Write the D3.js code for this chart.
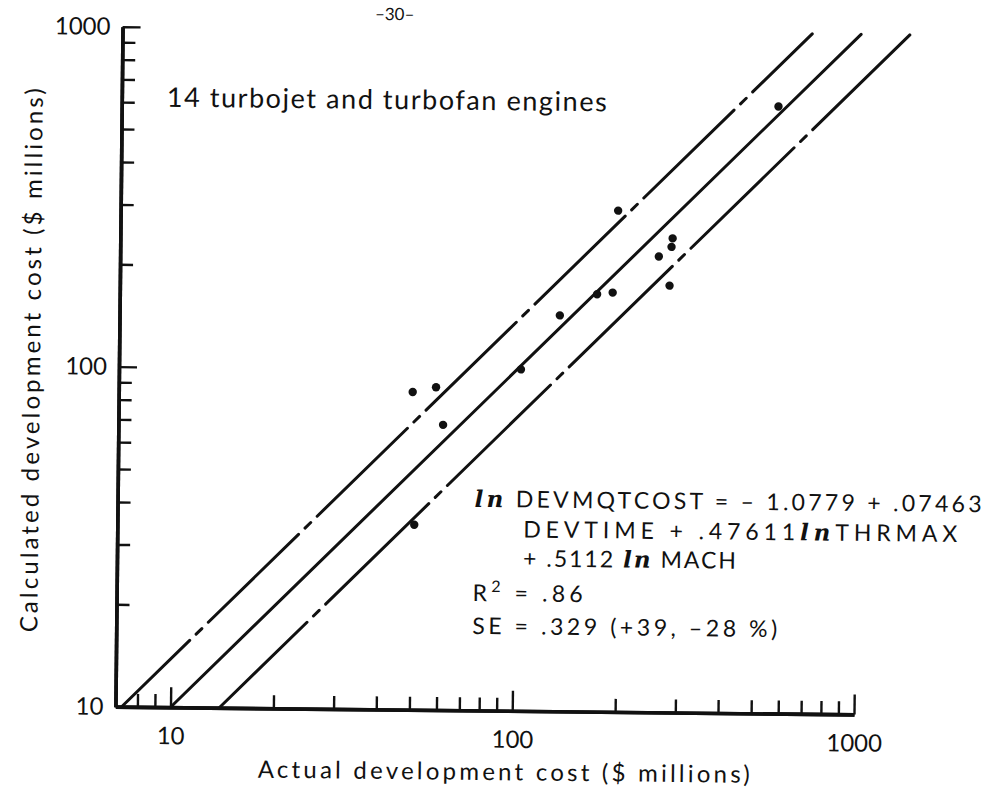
<!DOCTYPE html>
<html><head><meta charset="utf-8">
<script src="https://cdn.jsdelivr.net/npm/d3@7"></script>
<style>
body{margin:0;background:#fff}
svg{display:block}
text{font-family:Lato,"Noto Sans",sans-serif;fill:#111}
.ln{font-family:"DejaVu Serif",serif;font-style:italic;font-weight:bold}
</style></head><body>
<svg id="chart" width="1000" height="787"></svg>
<script>
// Actual vs. calculated development cost for 14 turbojet and turbofan engines ($ millions)
const actualCost     = [50, 58.5, 61.5, 103.5, 134, 172, 191, 51, 197, 285, 283, 260, 280, 576];
const calculatedCost = [86, 89, 69, 101, 146, 169, 171, 35, 298, 248, 234, 219, 180, 610];

// Fitted line and the one-standard-error band around it (SE = .329 -> +39 %, -28 %)
const bandNames   = ["upper", "fit", "lower"];
const bandFactors = [1.39, 1, 0.72];
const bandRange   = [10, 1000];

// Log axes
const xDomain = [6.9, 1000];
const yDomain = [10, 1000];
const xMinorTicks = [8, 9, 20, 30, 40, 50, 60, 70, 80, 90, 200, 300, 400, 500, 600, 700, 800, 900];
const yMinorTicks = [20, 30, 40, 50, 60, 70, 80, 90, 200, 300, 400, 500, 600, 700, 800, 900];
const majorTicks  = [10, 100, 1000];
const majorLabels = ["10", "100", "1000"];

const svg = d3.select("#chart");
const g = svg.append("g").attr("transform", "rotate(0.6,485,368)");

const x = d3.scaleLog().domain(xDomain).range([119, 857.6]);
const y = d3.scaleLog().domain(yDomain).range([710.5, 30.5]);

const lineStyle = {
  upper: {dash: "126 9 8 9", offset: 31},
  fit:   {dash: null, offset: 0},
  lower: {dash: "144 9 8 9", offset: 21.5}
};

// band lines
const lineGen = d3.line().x(d => x(d[0])).y(d => y(d[1]));
bandNames.forEach((name, i) => {
  const f = bandFactors[i];
  const pts = bandRange.map(c => [c / f, c]);
  const st = lineStyle[name];
  g.append("path")
    .attr("d", lineGen(pts))
    .attr("fill", "none")
    .attr("stroke", "#111")
    .attr("stroke-width", 3)
    .attr("stroke-linecap", "round")
    .attr("stroke-dasharray", st.dash)
    .attr("stroke-dashoffset", st.offset);
});

// axes
function styleAxis(sel, w) {
  sel.selectAll(".domain").attr("stroke", "#111").attr("stroke-width", w);
  sel.selectAll(".tick line").attr("stroke", "#111").attr("stroke-width", 2.4);
  sel.selectAll("text").attr("font-size", 24).attr("fill", "#111").attr("font-family", "Lato, 'Noto Sans', sans-serif");
}
const xAxisY = y(yDomain[0]);
const xAxisX = x(xDomain[0]);

const xMinor = g.append("g").attr("transform", `translate(0,${xAxisY})`)
  .call(d3.axisBottom(x).tickValues(xMinorTicks).tickSizeInner(-13).tickSizeOuter(0).tickFormat(""));
styleAxis(xMinor, 3.6);
const xMajor = g.append("g").attr("transform", `translate(0,${xAxisY})`)
  .call(d3.axisBottom(x).tickValues(majorTicks).tickSizeInner(-20).tickSizeOuter(0).tickPadding(20)
    .tickFormat((d, i) => majorLabels[i]));
styleAxis(xMajor, 3.6);

const yMinor = g.append("g").attr("transform", `translate(${xAxisX},0)`)
  .call(d3.axisLeft(y).tickValues(yMinorTicks).tickSizeInner(-13).tickSizeOuter(0).tickFormat(""));
styleAxis(yMinor, 3.6);
const yMajor = g.append("g").attr("transform", `translate(${xAxisX},0)`)
  .call(d3.axisLeft(y).tickValues(majorTicks).tickSizeInner(-18).tickSizeOuter(0).tickPadding(12)
    .tickFormat((d, i) => majorLabels[i]));
styleAxis(yMajor, 3.6);

// data points
g.append("g").selectAll("circle")
  .data(actualCost)
  .join("circle")
  .attr("cx", d => x(d))
  .attr("cy", (d, i) => y(calculatedCost[i]))
  .attr("r", 4.2)
  .attr("fill", "#111");

// axis titles
g.append("text")
  .attr("x", 508).attr("y", 780)
  .attr("text-anchor", "middle")
  .attr("font-size", 24)
  .attr("textLength", 492).attr("lengthAdjust", "spacing")
  .text("Actual development cost ($ millions)");

g.append("text")
  .attr("transform", "translate(40,365) rotate(-90)")
  .attr("text-anchor", "middle")
  .attr("font-size", 24)
  .attr("textLength", 544).attr("lengthAdjust", "spacing")
  .text("Calculated development cost ($ millions)");

// page number
g.append("text")
  .attr("x", 391).attr("y", 21)
  .attr("text-anchor", "middle")
  .attr("font-size", 17)
  .text("\u201330\u2013");

// sample note
g.append("text")
  .attr("x", 164).attr("y", 110)
  .attr("font-size", 27)
  .attr("textLength", 440).attr("lengthAdjust", "spacing")
  .text("14 turbojet and turbofan engines");

// regression equation
const eq = g.append("g").attr("font-size", 23);
function eqLine(x0, y0, len, parts) {
  const t = eq.append("text").attr("x", x0).attr("y", y0)
    .attr("textLength", len).attr("lengthAdjust", "spacing");
  parts.forEach(p => {
    const s = t.append("tspan").text(p[0]);
    if (p[1]) s.attr("class", "ln").attr("font-size", 23);
  });
  return t;
}
eqLine(476, 507, 507, [["ln", true], [" DEVMQTCOST = \u2013 1.0779 + .07463"]]);
eqLine(525, 537, 434, [["DEVTIME + .47611", false], ["ln", true], ["THRMAX"]]);
eqLine(525, 566, 213, [["+ .5112 ", false], ["ln", true], [" MACH"]]);

const r2 = eq.append("text").attr("x", 475).attr("y", 601)
  .attr("textLength", 110).attr("lengthAdjust", "spacing");
r2.append("tspan").text("R");
r2.append("tspan").attr("dy", -9).attr("font-size", 16).text("2");
r2.append("tspan").attr("dy", 9).text(" = .86");

eq.append("text").attr("x", 475).attr("y", 634)
  .attr("textLength", 305).attr("lengthAdjust", "spacing")
  .text("SE = .329 (+39, \u201328 %)");
</script>
</body></html>
